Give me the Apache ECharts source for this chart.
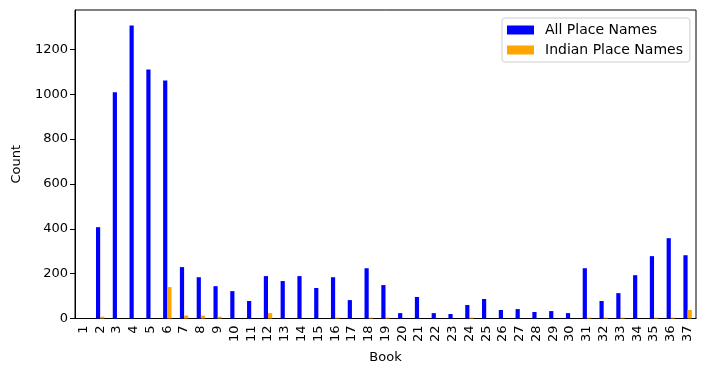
<!DOCTYPE html>
<html>
<head>
<meta charset="utf-8">
<script src="https://cdn.jsdelivr.net/npm/echarts@6/dist/echarts.min.js"></script>
<style>html,body{margin:0;padding:0;background:#fff}#c{width:704px;height:375px}</style>
</head>
<body>
<div id="c"></div>
<script>
const books = ['1','2','3','4','5','6','7','8','9','10','11','12','13','14','15','16','17','18','19','20','21','22','23','24','25','26','27','28','29','30','31','32','33','34','35','36','37'];
const allPlaceNames = [0,407,1008,1306,1110,1061,229,184,144,122,78,189,167,189,136,184,82,224,149,24,96,24,20,60,87,38,42,29,33,24,224,78,113,193,278,358,282];
const indianPlaceNames = [0,8,0,0,0,140,13,13,8,0,0,24,0,0,0,4,0,4,4,0,0,0,0,4,0,0,0,0,0,0,4,4,4,0,4,4,38];
const yTicks = [0,200,400,600,800,1000,1200];

const font = 'DejaVu Sans';
const chart = echarts.init(document.getElementById('c'), null, {renderer:'canvas'});
chart.setOption({
  animation: false,
  textStyle: {fontFamily: font},
  grid: {left: 75, right: 8, top: 10, bottom: 56.5, show: true, borderColor: '#000', borderWidth: 1, containLabel: false},
  legend: {
    orient: 'vertical', left: 502, top: 18,
    itemWidth: 27, itemHeight: 9, itemGap: 4,
    padding: [4, 7, 4, 5],
    borderColor: '#ccc', borderWidth: 1, borderRadius: 3, backgroundColor: '#fff',
    textStyle: {fontFamily: font, fontSize: 14, color: '#000', lineHeight: 16, padding: [0,0,0,6]},
    data: [{name:'All Place Names', icon:'rect'}, {name:'Indian Place Names', icon:'rect'}]
  },
  xAxis: {
    type: 'category', data: books, boundaryGap: true,
    name: 'Book', nameLocation: 'middle', nameGap: 33,
    nameTextStyle: {fontFamily: font, fontSize: 13, color: '#000'},
    axisLine: {lineStyle: {color: '#000', width: 1}},
    axisTick: {alignWithLabel: true, length: 5, lineStyle: {color: '#000'}},
    axisLabel: {rotate: 90, interval: 0, fontFamily: font, fontSize: 13, color: '#000', margin: 7}
  },
  yAxis: {
    type: 'value', min: 0, max: 1375, interval: 200,
    name: 'Count', nameLocation: 'middle', nameGap: 52,
    nameTextStyle: {fontFamily: font, fontSize: 13, color: '#000'},
    axisLine: {show: true, lineStyle: {color: '#000', width: 1}},
    axisTick: {show: true, length: 5, lineStyle: {color: '#000'}},
    splitLine: {show: false},
    axisLabel: {fontFamily: font, fontSize: 13, color: '#000', margin: 7, showMaxLabel: false,
      formatter: v => yTicks.includes(v) ? String(v) : ''}
  },
  series: [
    {name: 'All Place Names', type: 'bar', data: allPlaceNames, barWidth: '25%', barGap: '0%', itemStyle: {color: '#0000ff'}},
    {name: 'Indian Place Names', type: 'bar', data: indianPlaceNames, barWidth: '25%', barGap: '0%', itemStyle: {color: '#ffa500'}}
  ]
});
</script>
</body>
</html>
